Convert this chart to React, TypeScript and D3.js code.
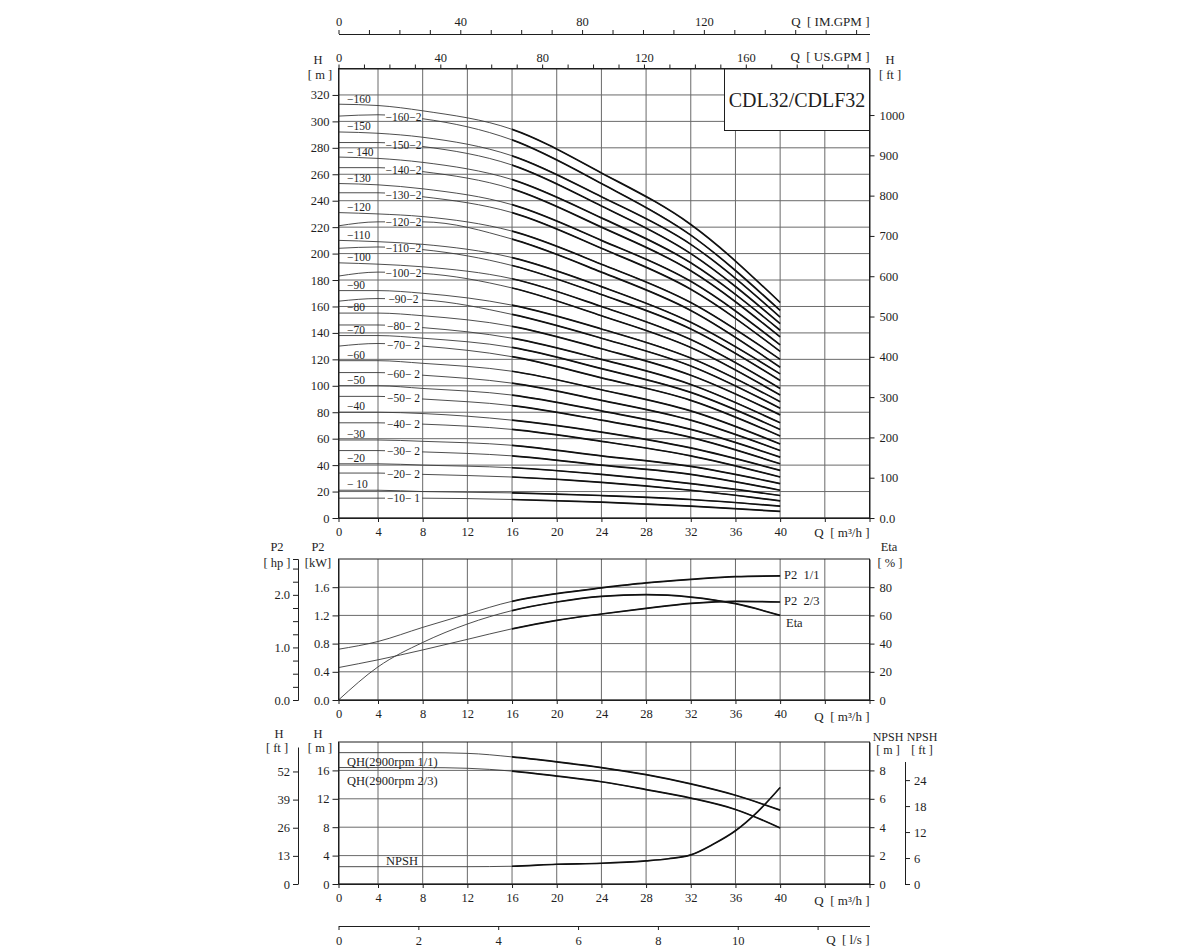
import { useEffect, useRef } from 'react'
import * as d3 from 'd3'

// ---- axis ticks ----
const qGrid = [0, 4, 8, 12, 16, 20, 24, 28, 32, 36, 40, 44, 48]
const headTicks = [0, 20, 40, 60, 80, 100, 120, 140, 160, 180, 200, 220, 240, 260, 280, 300, 320]
const feetTicks = [0, 100, 200, 300, 400, 500, 600, 700, 800, 900, 1000]
const usGpmTicks = [0, 10, 20, 30, 40, 50, 60, 70, 80, 90, 100, 110, 120, 130, 140, 150, 160, 170, 180, 190, 200]
const imGpmTicks = [0, 10, 20, 30, 40, 50, 60, 70, 80, 90, 100, 110, 120, 130, 140, 150, 160, 170]
const kwTicks = [0, 0.4, 0.8, 1.2, 1.6]
const hpTicks = [0, 0.25, 0.5, 0.75, 1, 1.25, 1.5, 1.75, 2, 2.25, 2.5]
const etaTicks = [0, 20, 40, 60, 80]
const hSmallTicks = [0, 4, 8, 12, 16]
const hFtTicks = [0, 13, 26, 39, 52]
const npshTicks = [0, 2, 4, 6, 8]
const npshFtTicks = [0, 6, 12, 18, 24]
const lsTicks = [0, 2, 4, 6, 8, 10, 12]

// ---- head curves (H in m at the flows below) ----
const curveFlows = [0, 4, 8, 16, 24, 32, 40]
const modelNames = [
  '−160', '−160−2', '−150', '−150−2', '− 140', '−140−2', '−130', '−130−2',
  '−120', '−120−2', '−110', '−110−2', '−100', '−100−2', '−90', '−90−2',
  '−80', '−80− 2', '−70', '−70− 2', '−60', '−60− 2', '−50', '−50− 2',
  '−40', '−40− 2', '−30', '−30− 2', '−20', '−20− 2', '− 10', '−10− 1',
]
const headRows = [
  [313, 312, 308, 294, 261, 222, 163],
  [304, 305, 302, 286, 253, 214, 157],
  [292, 291, 288, 274, 243, 207, 152],
  [284, 284, 281, 267, 236, 200, 147],
  [273, 272, 269, 256, 227, 193, 142],
  [265, 265, 262, 249, 220, 187, 137],
  [253, 252, 249, 237, 210, 179, 131],
  [246, 246, 243, 231, 204, 173, 126],
  [231, 230, 228, 217, 192, 163, 120],
  [221, 224, 224, 211, 186, 157, 114],
  [210, 209, 207, 197, 175, 148, 109],
  [204, 205, 203, 191, 169, 143, 104],
  [193, 192, 190, 181, 160, 135, 98],
  [183, 186, 185, 174, 153, 129, 93],
  [172, 172, 170, 161, 143, 121, 88],
  [164, 166, 165, 154, 136, 115, 83],
  [155, 155, 153, 145, 128, 108, 78],
  [146, 146, 144, 136, 120, 101, 72],
  [138, 138, 136, 129, 113, 95, 67],
  [130, 132, 130, 122, 106, 89, 62],
  [119, 119, 117, 111, 97, 81, 56],
  [110, 110, 108, 102, 89, 74, 51],
  [100, 100, 98, 93, 81, 67, 46],
  [92, 92, 90, 85, 74, 61, 41],
  [80, 80, 79, 74, 65, 53, 36],
  [72, 72, 71, 67, 58, 47, 31],
  [59, 59, 58, 55, 47, 39, 26],
  [51, 51, 50, 47, 40, 33, 21],
  [41, 41, 40, 38, 33, 26, 17],
  [34, 34, 33, 31, 27, 21, 13],
  [21, 21, 20, 19, 17, 14, 9],
  [15, 15, 15, 14, 12, 9, 5],
]

// ---- power / efficiency ----
const perfFlows = [0, 4, 8, 12, 16, 20, 24, 28, 32, 36, 40]
const p2Full = [0.72, 0.83, 1.03, 1.22, 1.4, 1.51, 1.59, 1.66, 1.71, 1.75, 1.76]
const p2TwoThirds = [0.46, 0.57, 0.71, 0.86, 1.01, 1.13, 1.22, 1.3, 1.37, 1.4, 1.39]
const etaValues = [0, 23.5, 40.8, 53.9, 63.4, 69.5, 73.5, 74.7, 73, 68.3, 60]

// ---- single stage QH + NPSH ----
const qhFull = [18.5, 18.5, 18.5, 18.4, 17.9, 17.2, 16.4, 15.4, 14.1, 12.5, 10.4]
const qhTwoThirds = [16.4, 16.4, 16.4, 16.3, 15.9, 15.2, 14.4, 13.3, 12.1, 10.5, 7.9]
const npshFlows = [0, 4, 8, 12, 16, 20, 24, 28, 30, 32, 34, 36, 38, 40]
const npshValues = [1.22, 1.22, 1.22, 1.22, 1.25, 1.39, 1.46, 1.63, 1.78, 2.05, 2.8, 3.75, 5.1, 6.8]

const FONT = "'Liberation Serif', 'DejaVu Serif', serif"
const INK = '#1e1e1e'
const GRID = '#6a6a6a'

const xQ = d3.scaleLinear().domain([0, 4, 48]).range([338.5, 378, 869.5])
const X0 = xQ(0)
const X1 = xQ(48)

function addAxis(g: any, axis: any, x: number, y: number, size = 12.5) {
  const a = g.append('g').attr('transform', `translate(${x},${y})`).call(axis)
  a.attr('font-family', FONT).attr('font-size', size).attr('color', INK)
  return a
}

function label(g: any, x: number, y: number, s: string, anchor = 'start', size = 12.5) {
  return g.append('text').attr('x', x).attr('y', y).attr('text-anchor', anchor)
    .attr('font-size', size).attr('font-family', FONT).attr('fill', INK)
    .style('white-space', 'pre').text(s)
}

function grid(g: any, yScale: any, yVals: number[], top: number, bottom: number) {
  g.append('g').selectAll('line').data(yVals).join('line')
    .attr('x1', X0).attr('x2', X1).attr('y1', (d: number) => yScale(d)).attr('y2', (d: number) => yScale(d))
    .attr('stroke', GRID).attr('stroke-width', 1)
  g.append('g').selectAll('line').data(qGrid).join('line')
    .attr('x1', (d: number) => xQ(d)).attr('x2', (d: number) => xQ(d)).attr('y1', top).attr('y2', bottom)
    .attr('stroke', GRID).attr('stroke-width', 1)
  g.append('rect').attr('x', X0).attr('y', top).attr('width', X1 - X0).attr('height', bottom - top)
    .attr('fill', 'none').attr('stroke', INK).attr('stroke-width', 1)
}

function curvePair(g: any, d: string) {
  g.append('path').attr('d', d).attr('fill', 'none').attr('stroke', '#3a3a3a').attr('stroke-width', 0.9)
  g.append('path').attr('d', d).attr('fill', 'none').attr('stroke', '#111').attr('stroke-width', 1.7)
    .attr('clip-path', 'url(#opRange)')
}

function draw(svg: any) {
  svg.append('rect').attr('width', 1200).attr('height', 950).attr('fill', '#fff')
  const defs = svg.append('defs')
  defs.append('clipPath').attr('id', 'opRange').append('rect')
    .attr('x', xQ(16)).attr('y', 0).attr('width', 1200 - xQ(16)).attr('height', 950)

  // ================= top panel =================
  const yH = d3.scaleLinear().domain([0, 340]).range([518, 68.5])
  const yFt = d3.scaleLinear().domain([0, 340 / 0.3048]).range([518, 68.5])
  const top = svg.append('g')
  grid(top, yH, headTicks, yH(340), yH(0))

  const lineH = (row: number[]) =>
    d3.line<number>().x((_, i) => xQ(curveFlows[i])).y((v) => yH(v)).curve(d3.curveMonotoneX)(row)

  // gaps where the -2 labels sit on their curve
  const labelQ = 6.2
  const mask = defs.append('mask').attr('id', 'gaps')
  mask.append('rect').attr('width', 1200).attr('height', 950).attr('fill', '#fff')
  headRows.forEach((row, i) => {
    if (i % 2 === 1) {
      const cy = yH(d3.scaleLinear().domain(curveFlows).range(row)(labelQ))
      mask.append('rect').attr('x', 385).attr('y', cy - 4.5).attr('width', 37).attr('height', 9).attr('fill', '#000')
    }
  })

  const curves = top.append('g')
  headRows.forEach((row, i) => {
    const cg = i % 2 === 1 ? curves.append('g').attr('mask', 'url(#gaps)') : curves.append('g')
    curvePair(cg, lineH(row) as string)
  })

  headRows.forEach((row, i) => {
    const at = d3.scaleLinear().domain(curveFlows).range(row)
    if (i % 2 === 0) {
      label(top, 347, yH(at(1.5)) - 2, modelNames[i], 'start', 11.5)
    } else {
      label(top, 403.5, yH(at(labelQ)), modelNames[i], 'middle', 11.5).attr('dy', '0.35em')
    }
  })

  // title box
  top.append('rect').attr('x', 724.5).attr('y', 68.5).attr('width', X1 - 724.5).attr('height', 62)
    .attr('fill', '#fff').attr('stroke', INK)
  label(top, (724.5 + X1) / 2, 107, 'CDL32/CDLF32', 'middle', 20)

  addAxis(top, d3.axisLeft(yH).tickValues(headTicks).tickSize(6).tickSizeOuter(0).tickPadding(3), X0, 0)
  addAxis(top, d3.axisRight(yFt).tickValues(feetTicks).tickSize(5).tickSizeOuter(0).tickPadding(5)
    .tickFormat((d: any) => (d === 0 ? '0.0' : String(d))), X1, 0)
  addAxis(top, d3.axisBottom(xQ).tickValues(qGrid).tickSize(4).tickSizeOuter(0).tickPadding(5)
    .tickFormat((d: any) => (d <= 40 ? String(d) : '')), 0, 518)

  const xUs = d3.scaleLinear().domain([0, 208.6]).range([X0, X1])
  addAxis(top, d3.axisTop(xUs).tickValues(usGpmTicks).tickSize(4).tickSizeOuter(0).tickPadding(3)
    .tickFormat((d: any) => (d % 40 === 0 && d <= 160 ? String(d) : '')), 0, 68.5)
  const xIm = d3.scaleLinear().domain([0, 174.4]).range([X0, X1])
  addAxis(top, d3.axisTop(xIm).tickValues(imGpmTicks).tickSize(4).tickSizeOuter(0).tickPadding(4)
    .tickFormat((d: any) => (d % 40 === 0 && d <= 120 ? String(d) : '')), 0, 34)

  label(top, X1, 26, 'Q  [ IM.GPM ]', 'end', 13)
  label(top, X1, 61, 'Q  [ US.GPM ]', 'end', 13)
  label(top, 318, 64, 'H', 'middle', 12.5)
  label(top, 320, 79, '[ m ]', 'middle', 12.5)
  label(top, 890, 64, 'H', 'middle', 12.5)
  label(top, 890, 79, '[ ft ]', 'middle', 12.5)
  label(top, X1, 537, 'Q  [ m³/h ]', 'end', 13)

  // ================= middle panel =================
  const yKw = d3.scaleLinear().domain([0, 2]).range([700, 559])
  const yEta = d3.scaleLinear().domain([0, 100]).range([700, 559])
  const yHp = d3.scaleLinear().domain([0, 2 / 0.7457]).range([700, 559])
  const mid = svg.append('g')
  grid(mid, yKw, kwTicks, 559, 700)

  const lineKw = d3.line<number>().x((_, i) => xQ(perfFlows[i])).y((v) => yKw(v)).curve(d3.curveMonotoneX)
  const lineEta = d3.line<number>().x((_, i) => xQ(perfFlows[i])).y((v) => yEta(v)).curve(d3.curveMonotoneX)
  curvePair(mid, lineKw(p2Full) as string)
  curvePair(mid, lineKw(p2TwoThirds) as string)
  curvePair(mid, lineEta(etaValues) as string)

  addAxis(mid, d3.axisLeft(yKw).tickValues(kwTicks).tickSize(6).tickSizeOuter(0).tickPadding(3)
    .tickFormat(d3.format('.1f')), X0, 0)
  addAxis(mid, d3.axisLeft(yHp).tickValues(hpTicks).tickSize(5).tickSizeOuter(5).tickPadding(3)
    .tickFormat((d: any) => (Number.isInteger(d) ? d3.format('.1f')(d) : '')), 298, 0)
  addAxis(mid, d3.axisRight(yEta).tickValues(etaTicks).tickSize(5).tickSizeOuter(0).tickPadding(5), X1, 0)
  addAxis(mid, d3.axisBottom(xQ).tickValues(qGrid).tickSize(4).tickSizeOuter(0).tickPadding(5)
    .tickFormat((d: any) => (d <= 40 ? String(d) : '')), 0, 700)

  label(mid, 784, 579, 'P2  1/1', 'start', 12.5)
  label(mid, 784, 605, 'P2  2/3', 'start', 12.5)
  label(mid, 786, 627, 'Eta', 'start', 12.5)
  label(mid, 277, 551, 'P2', 'middle', 12.5)
  label(mid, 277, 567, '[ hp ]', 'middle', 12.5)
  label(mid, 318, 551, 'P2', 'middle', 12.5)
  label(mid, 318, 567, '[kW]', 'middle', 12.5)
  label(mid, 889, 551, 'Eta', 'middle', 12.5)
  label(mid, 890, 567, '[ % ]', 'middle', 12.5)
  label(mid, X1, 721, 'Q  [ m³/h ]', 'end', 13)

  // ================= bottom panel =================
  const yHb = d3.scaleLinear().domain([0, 20]).range([884, 742])
  const yNm = d3.scaleLinear().domain([0, 10]).range([884, 742])
  const ftTop = 63.3
  const yFtB = d3.scaleLinear().domain([0, ftTop]).range([884, yHb(ftTop * 0.3048)])
  const nFtTop = 28.3
  const yNft = d3.scaleLinear().domain([0, nFtTop]).range([884, yNm(nFtTop * 0.3048)])
  const bot = svg.append('g')
  grid(bot, yHb, hSmallTicks, 742, 884)

  const lineHb = d3.line<number>().x((_, i) => xQ(perfFlows[i])).y((v) => yHb(v)).curve(d3.curveMonotoneX)
  const lineNpsh = d3.line<number>().x((_, i) => xQ(npshFlows[i])).y((v) => yNm(v)).curve(d3.curveMonotoneX)
  curvePair(bot, lineHb(qhFull) as string)
  curvePair(bot, lineHb(qhTwoThirds) as string)
  curvePair(bot, lineNpsh(npshValues) as string)

  addAxis(bot, d3.axisLeft(yHb).tickValues(hSmallTicks).tickSize(6).tickSizeOuter(0).tickPadding(3), X0, 0)
  addAxis(bot, d3.axisLeft(yFtB).tickValues(hFtTicks).tickSize(5).tickSizeOuter(0).tickPadding(3), 298, 0)
  addAxis(bot, d3.axisRight(yNm).tickValues(npshTicks).tickSize(5).tickSizeOuter(0).tickPadding(5), X1, 0)
  addAxis(bot, d3.axisRight(yNft).tickValues(npshFtTicks).tickSize(5).tickSizeOuter(0).tickPadding(4), 905, 0)
  addAxis(bot, d3.axisBottom(xQ).tickValues(qGrid).tickSize(4).tickSizeOuter(0).tickPadding(5)
    .tickFormat((d: any) => (d <= 40 ? String(d) : '')), 0, 884)

  const xLs = d3.scaleLinear().domain([0, 13.3]).range([X0, X1])
  addAxis(bot, d3.axisBottom(xLs).tickValues(lsTicks).tickSize(4).tickSizeOuter(0).tickPadding(6)
    .tickFormat((d: any) => (d <= 10 ? String(d) : '')), 0, 926)

  label(bot, 347, 766, 'QH(2900rpm 1/1)', 'start', 12.5)
  label(bot, 347, 785, 'QH(2900rpm 2/3)', 'start', 12.5)
  label(bot, 386, 865, 'NPSH', 'start', 12.5)
  label(bot, 279, 738, 'H', 'middle', 12.5)
  label(bot, 277, 752, '[ ft ]', 'middle', 12.5)
  label(bot, 318, 738, 'H', 'middle', 12.5)
  label(bot, 320, 752, '[ m ]', 'middle', 12.5)
  label(bot, 888, 741, 'NPSH', 'middle', 12)
  label(bot, 888, 754, '[ m ]', 'middle', 12)
  label(bot, 922, 741, 'NPSH', 'middle', 12)
  label(bot, 922, 754, '[ ft ]', 'middle', 12)
  label(bot, X1, 905, 'Q  [ m³/h ]', 'end', 13)
  label(bot, X1, 944, 'Q  [ l/s ]', 'end', 13)
}

export default function App() {
  const ref = useRef<SVGSVGElement>(null)
  useEffect(() => {
    const svg = d3.select(ref.current)
    svg.selectAll('*').remove()
    draw(svg)
  }, [])
  return (
    <svg
      ref={ref}
      width={1200}
      height={950}
      style={{ position: 'absolute', left: 0, top: 0, display: 'block' }}
    />
  )
}
